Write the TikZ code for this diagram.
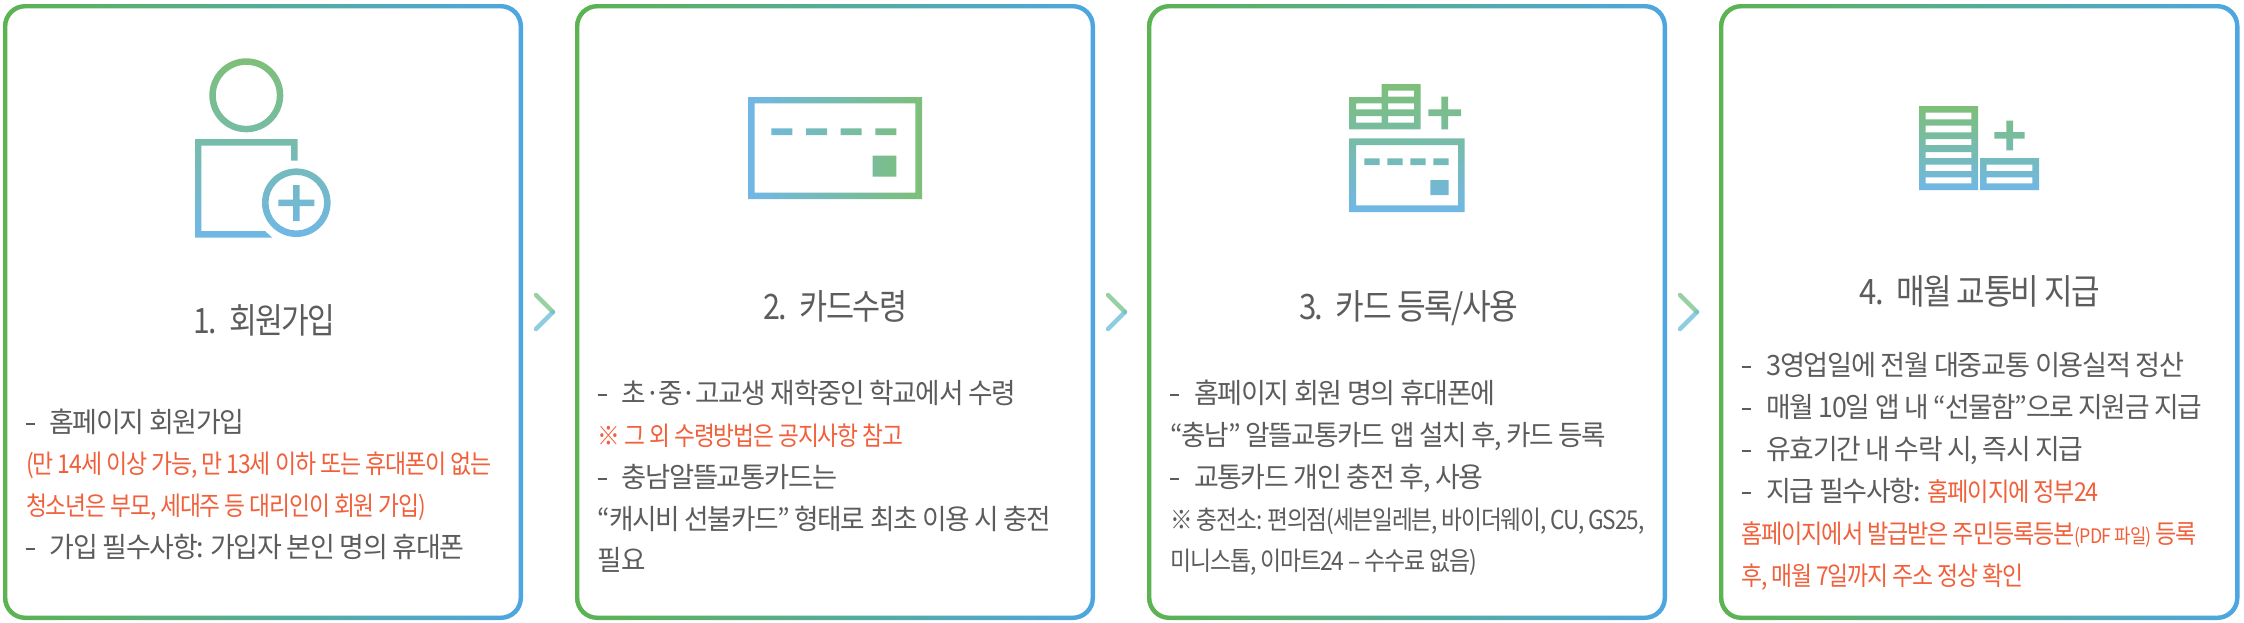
\documentclass[tikz,border=0pt]{standalone}
\usepackage{graphicx}
\usepackage{fontspec}
\setmainfont[LetterSpace=-5]{Noto Sans CJK KR}
\definecolor{txtgray}{HTML}{5C5C5C}
\definecolor{txtred}{HTML}{F1603A}
\definecolor{ringgreen}{HTML}{5CB350}
\definecolor{ringblue}{HTML}{4DA6E0}
\definecolor{icongreen}{HTML}{7DBF78}
\definecolor{iconblue}{HTML}{70B7E6}
\definecolor{chevgreen}{HTML}{7BC48A}
\definecolor{chevblue}{HTML}{6FC0D8}
\tikzset{
  ring/.style={even odd rule,left color=ringgreen,right color=ringblue,draw=none},
  iconv/.style={even odd rule,top color=icongreen,bottom color=iconblue,draw=none},
  iconh/.style={even odd rule,left color=iconblue,right color=icongreen,draw=none},
  body/.style={inner sep=0pt,text=txtgray,font=\fontsize{14}{14}\selectfont},
  red/.style={inner sep=0pt,text=txtred,font=\fontsize{13}{13}\selectfont},
  small/.style={inner sep=0pt,text=txtgray,font=\fontsize{13}{13}\selectfont},
  title/.style={inner sep=0pt,text=txtgray,font=\fontsize{17.5}{17.5}\selectfont},
  chev/.style={line width=2.2pt,line cap=round,opacity=0.78}
}
% name, style, left x, baseline y, right x, text
\newcommand{\txtline}[6]{%
  \pgfmathsetmacro\wid{(#5-#3)*0.5}%
  \node[#2,anchor=base west] (#1) at (#3,#4+1.5) {\resizebox{\wid pt}{\height}{#6}};}
% name, dash x, baseline y, text x, right x, text
\newcommand{\dshline}[6]{%
  \draw[txtgray,line width=0.75pt] (#2,#3-7) -- (#2+9,#3-7);
  \txtline{#1}{body}{#4}{#3}{#5}{#6}}
\newcommand{\ringbox}[2]{%
  \path[ring] [rounded corners=11pt] (#1,4) rectangle (#2,620)
    [rounded corners=9pt] (#1+4.4,8.4) rectangle (#2-4.4,615.6);}
\newcommand{\chevron}[2]{%
  \coordinate (#1t) at (#2,295);
  \coordinate (#1m) at (#2+17,312);
  \coordinate (#1b) at (#2,329);
  \draw[chev,chevgreen] (#1t) -- (#1m);
  \draw[chev,chevblue] (#1b) -- (#1m);}
\begin{document}
\begin{tikzpicture}[x=0.5pt,y=-0.5pt]
\useasboundingbox (0,0) rectangle (2244,622);
\fill[white] (0,0) rectangle (2244,622);
\ringbox{3}{523}
\ringbox{575}{1095}
\ringbox{1147}{1667}
\ringbox{1719}{2239.5}
\chevron{ca}{536}
\chevron{cb}{1108}
\chevron{cc}{1680}
% icon 1
\path[iconv]
  (246.3,95.3) circle[radius=37] (246.3,95.3) circle[radius=30.5]
  (195,139) -- (297.7,139) -- (297.7,160.7) -- (291,160.7) -- (291,145.7) -- (201.3,145.7) -- (201.3,231) -- (265,231) -- (272.3,237.7) -- (195,237.7) -- cycle
  (296.3,202.7) circle[radius=34.3] (296.3,202.7) circle[radius=27.8]
  (293,185) -- (299.5,185) -- (299.5,199.5) -- (314.3,199.5) -- (314.3,206) -- (299.5,206) -- (299.5,221) -- (293,221) -- (293,206) -- (278.3,206) -- (278.3,199.5) -- (293,199.5) -- cycle;
% icon 2
\path[iconh]
  (748,97) rectangle (922,199) (754.7,103.3) rectangle (915.3,192.7)
  (771.3,128.3) rectangle (792.3,135)
  (806,128.3) rectangle (827,135)
  (840.7,128.3) rectangle (861.7,135)
  (875.3,128.3) rectangle (896.3,135)
  (872.7,155.7) rectangle (896.3,176.7);
% icon 3
\path[iconv]
  (1349.3,97) -- (1381.7,97) -- (1381.7,84) -- (1420.7,84) -- (1420.7,129.3) -- (1349.3,129.3) -- cycle
  (1356,103.3) rectangle (1381.7,109.3) (1356,116) rectangle (1381.7,122.7)
  (1388,90.7) rectangle (1414,96.7) (1388,103.3) rectangle (1414,109.3) (1388,116) rectangle (1414,122.7)
  (1428.3,109.3) rectangle (1441.3,116) (1448,109.3) rectangle (1461,116)
  (1441.3,96.7) -- (1448,96.7) -- (1448,129.3) -- (1441.3,129.3) -- cycle
  (1349.3,138.3) rectangle (1464.7,212) (1356,145) rectangle (1458,205.3)
  (1364.3,158.3) rectangle (1379.7,165) (1387.3,158.3) rectangle (1402.7,165)
  (1410.3,158.3) rectangle (1425.7,165) (1433.3,158.3) rectangle (1448.7,165)
  (1430.3,180) rectangle (1448.7,195);
% icon 4
\path[iconv]
  (1919,106) rectangle (1978,190)
  (1925.7,112.7) rectangle (1971.3,119.3)
  (1925.7,125.7) rectangle (1971.3,132.3)
  (1925.7,139) rectangle (1971.3,145)
  (1925.7,152) rectangle (1971.3,158)
  (1925.7,164.7) rectangle (1971.3,171)
  (1925.7,177.3) rectangle (1971.3,183.3)
  (1980,158) rectangle (2039,190)
  (1986.7,164.7) rectangle (2032.3,171)
  (1986.7,177.3) rectangle (2032.3,183.3)
  (1994.3,132) rectangle (2006.3,138.7) (2013,132) rectangle (2024.7,138.7)
  (2006.3,120.7) rectangle (2013,150.3);
% card 1
\txtline{t1}{title}{193}{332}{335}{1.\hspace{0.4em}회원가입}
\dshline{a1}{25.7}{431}{49}{244}{홈페이지 회원가입}
\txtline{a2}{red}{25.7}{472}{491}{(만 14세 이상 가능, 만 13세 이하 또는 휴대폰이 없는}
\txtline{a3}{red}{25.7}{514}{425.7}{청소년은 부모, 세대주 등 대리인이 회원 가입)}
\dshline{a4}{25.7}{556}{49.5}{464}{가입 필수사항: 가입자 본인 명의 휴대폰}
% card 2
\txtline{t2}{title}{763}{318}{907}{2.\hspace{0.4em}카드수령}
\dshline{b1}{597.5}{402}{621.4}{1015.4}{초·중·고교생 재학중인 학교에서 수령}
\txtline{b2}{red}{597.5}{444}{902.9}{※ 그 외 수령방법은 공지사항 참고}
\dshline{b3}{597.5}{486}{621.4}{836.8}{충남알뜰교통카드는}
\txtline{b4}{body}{597.5}{528}{1051}{“캐시비 선불카드” 형태로 최초 이용 시 충전}
\txtline{b5}{body}{597.5}{569}{645}{필요}
% card 3
\txtline{t3}{title}{1298.6}{318}{1517.5}{3.\hspace{0.4em}카드 등록/사용}
\dshline{c1}{1170}{402}{1193.6}{1495.4}{홈페이지 회원 명의 휴대폰에}
\txtline{c2}{body}{1170}{444}{1606}{“충남\symbol{34} 알뜰교통카드 앱 설치 후, 카드 등록}
\dshline{c3}{1170}{486}{1193.6}{1483}{교통카드 개인 충전 후, 사용}
\txtline{c4}{small}{1170}{528}{1644}{※ 충전소: 편의점(세븐일레븐, 바이더웨이, CU, GS25,}
\txtline{c5}{small}{1170}{569}{1476.4}{미니스톱, 이마트24 – 수수료 없음)}
% card 4
\txtline{t4}{title}{1859}{303}{2100}{4.\hspace{0.4em}매월 교통비 지급}
\dshline{d1}{1741.9}{374}{1766}{2184}{3영업일에 전월 대중교통 이용실적 정산}
\dshline{d2}{1741.9}{416}{1766}{2201.9}{매월 10일 앱 내 “선물함”으로 지원금 지급}
\dshline{d3}{1741.9}{458}{1766}{2083}{유효기간 내 수락 시, 즉시 지급}
\dshline{d4}{1741.9}{500}{1766}{1920.4}{지급 필수사항:}
\txtline{d4r}{red}{1926.9}{500}{2098.3}{홈페이지에 정부24}
\txtline{d5}{red}{1741}{542}{2196.5}{홈페이지에서 발급받은 주민등록등본{\fontsize{10}{10}\selectfont (PDF 파일)} 등록}
\txtline{d6}{red}{1741}{584}{2022.6}{후, 매월 7일까지 주소 정상 확인}
\end{tikzpicture}
\end{document}
